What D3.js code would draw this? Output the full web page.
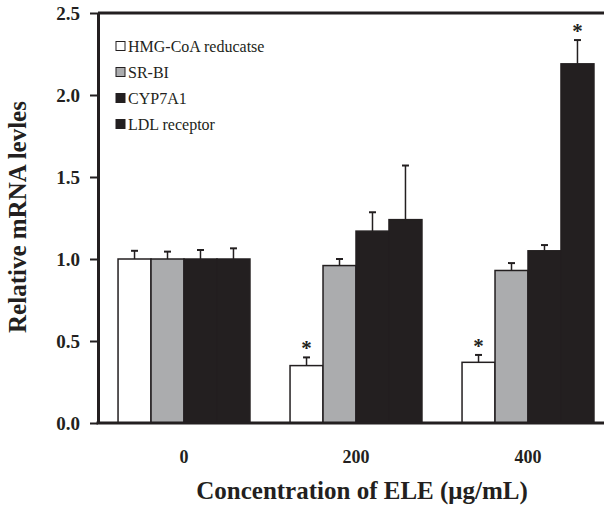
<!DOCTYPE html>
<html>
<head>
<meta charset="utf-8">
<script src="https://cdn.jsdelivr.net/npm/d3@7"></script>
<style>
  body { margin: 0; background: #fff; }
  svg { display: block; font-family: "Liberation Serif", "Times New Roman", serif; }
</style>
</head>
<body>
<div class="chart"></div>
<script>
// data
var concentrations = ["0", "200", "400"];
var genes = ["HMG-CoA reducatse", "SR-BI", "CYP7A1", "LDL receptor"];
var hmgValues  = [1.00, 0.35, 0.37];
var hmgErrors  = [0.05, 0.05, 0.045];
var srbiValues = [1.00, 0.96, 0.93];
var srbiErrors = [0.045, 0.04, 0.045];
var cypValues  = [1.00, 1.17, 1.05];
var cypErrors  = [0.055, 0.115, 0.035];
var ldlValues  = [1.00, 1.24, 2.19];
var ldlErrors  = [0.065, 0.33, 0.145];
var significant = [[false, true, true], [false, false, false], [false, false, false], [false, false, true]];
var yTicks = [0, 0.5, 1.0, 1.5, 2.0, 2.5];

var seriesValues = [hmgValues, srbiValues, cypValues, ldlValues];
var seriesErrors = [hmgErrors, srbiErrors, cypErrors, ldlErrors];
var fills = ["#ffffff", "#abacae", "#231f20", "#231f20"];
var ink = "#231f20";

var margin = {top: 13, left: 98},
    width = 604, height = 508,
    plotH = 410;

var rows = [];
concentrations.forEach(function(c, i) {
  genes.forEach(function(g, j) {
    rows.push({conc: c, gene: g, idx: j, value: seriesValues[j][i], err: seriesErrors[j][i], star: significant[j][i]});
  });
});

var x0 = d3.scaleBand()
    .domain(concentrations)
    .range([margin.left, margin.left + 516])
    .paddingInner(0.233)
    .paddingOuter(0.1165);

var x1 = d3.scaleBand()
    .domain(genes)
    .range([0, x0.bandwidth()]);

var y = d3.scaleLinear()
    .domain([0, 2.5])
    .range([margin.top + plotH, margin.top]);

var svg = d3.select(".chart").append("svg")
    .attr("width", width)
    .attr("height", height);

// bars
svg.selectAll(".bar")
    .data(rows)
  .enter().append("rect")
    .attr("class", "bar")
    .attr("x", function(d) { return x0(d.conc) + x1(d.gene); })
    .attr("y", function(d) { return y(d.value); })
    .attr("width", x1.bandwidth())
    .attr("height", function(d) { return y(0) - y(d.value); })
    .style("fill", function(d) { return fills[d.idx]; })
    .style("stroke", ink)
    .style("stroke-width", 1.5);

// error bars
var eb = svg.selectAll(".err")
    .data(rows)
  .enter().append("g")
    .attr("class", "err")
    .attr("transform", function(d) { return "translate(" + (x0(d.conc) + x1(d.gene) + x1.bandwidth() / 2) + ",0)"; });

eb.append("line")
    .attr("x1", 0).attr("x2", 0)
    .attr("y1", function(d) { return y(d.value); })
    .attr("y2", function(d) { return y(d.value + d.err); })
    .style("stroke", ink)
    .style("stroke-width", 1.5);

eb.append("line")
    .attr("x1", -3.5).attr("x2", 3.5)
    .attr("y1", function(d) { return y(d.value + d.err); })
    .attr("y2", function(d) { return y(d.value + d.err); })
    .style("stroke", ink)
    .style("stroke-width", 2);

eb.filter(function(d) { return d.star; })
  .append("text")
    .attr("y", function(d) { return y(d.value + d.err) - 2; })
    .attr("text-anchor", "middle")
    .style("font-size", "21px")
    .style("font-weight", "bold")
    .style("fill", ink)
    .text("*");

// frame: top border
svg.append("line")
    .attr("x1", margin.left).attr("x2", width + 5)
    .attr("y1", y(2.5)).attr("y2", y(2.5))
    .style("stroke", ink).style("stroke-width", 3);

// y axis
var yAxis = d3.axisLeft(y)
    .tickValues(yTicks)
    .tickFormat(d3.format(".1f"))
    .tickSize(8)
    .tickSizeOuter(0)
    .tickPadding(10);

var gy = svg.append("g")
    .attr("transform", "translate(" + margin.left + ",0)")
    .call(yAxis);
gy.select(".domain").style("stroke", ink).style("stroke-width", 3);
gy.selectAll(".tick line").style("stroke", ink).style("stroke-width", 2);
gy.selectAll(".tick text")
    .style("font-family", "Liberation Serif, serif")
    .style("font-size", "19px")
    .style("font-weight", "bold")
    .style("fill", ink);

// x axis
var xAxis = d3.axisBottom(x0)
    .tickSize(0)
    .tickPadding(27);

var gx = svg.append("g")
    .attr("transform", "translate(0," + y(0) + ")")
    .call(xAxis);
gx.select(".domain").remove();
gx.append("line")
    .attr("x1", margin.left - 1.5).attr("x2", width + 5)
    .style("stroke", ink).style("stroke-width", 3);
gx.selectAll(".tick text")
    .style("font-family", "Liberation Serif, serif")
    .style("font-size", "18px")
    .style("font-weight", "bold")
    .style("fill", ink);

// axis titles
svg.append("text")
    .attr("transform", "translate(26,217) rotate(-90)")
    .attr("text-anchor", "middle")
    .style("font-size", "25px")
    .style("font-weight", "bold")
    .style("fill", ink)
    .text("Relative mRNA levles");

svg.append("text")
    .attr("x", 362)
    .attr("y", 499)
    .attr("text-anchor", "middle")
    .style("font-size", "25px")
    .style("font-weight", "bold")
    .style("fill", ink)
    .text("Concentration of ELE (\u03bcg/mL)");

// legend
var legend = svg.selectAll(".legend")
    .data(genes)
  .enter().append("g")
    .attr("class", "legend")
    .attr("transform", function(d, i) { return "translate(116," + (46 + i * 26) + ")"; });

legend.append("rect")
    .attr("x", 0).attr("y", -4.5)
    .attr("width", 9).attr("height", 9)
    .style("fill", function(d, i) { return fills[i]; })
    .style("stroke", ink)
    .style("stroke-width", 1);

legend.append("text")
    .attr("x", 12)
    .attr("y", 5.5)
    .style("font-size", "16px")
    .style("fill", ink)
    .text(function(d) { return d; });
</script>
</body>
</html>
